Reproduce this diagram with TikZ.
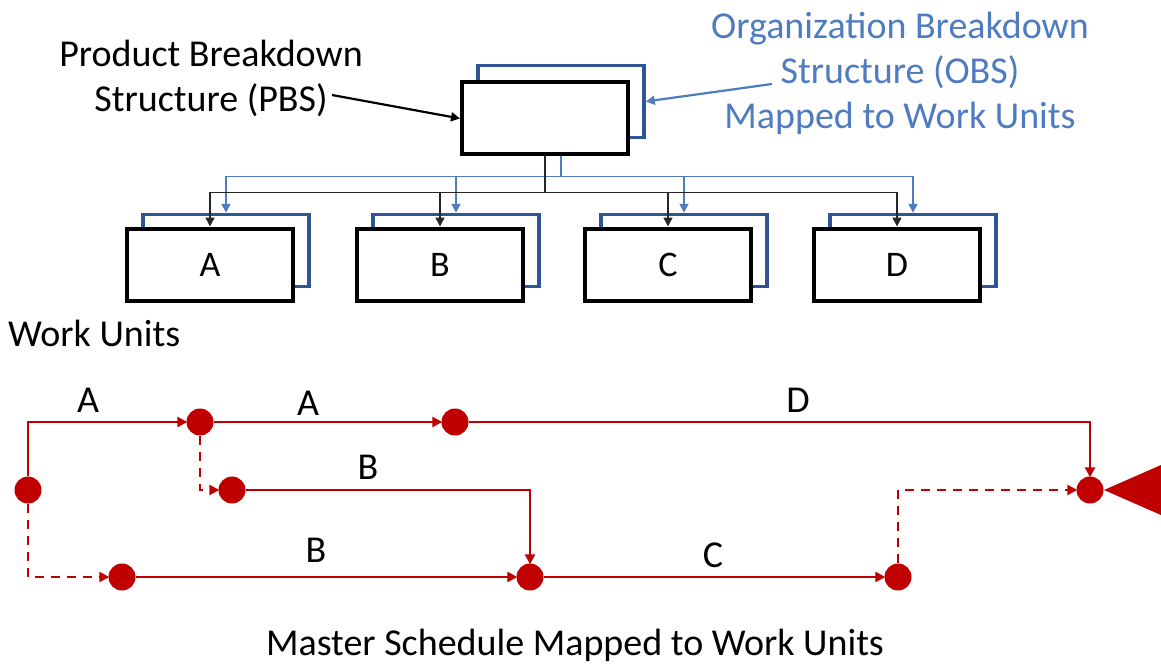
\documentclass[tikz,border=0pt]{standalone}
\usepackage{fontspec}
\setmainfont{Carlito}
\usetikzlibrary{arrows.meta}
\definecolor{obsblue}{HTML}{2F5597}
\definecolor{txtblue}{HTML}{4F7CC0}
\definecolor{schred}{HTML}{C00000}
\tikzset{
  bbox/.style={draw=black,line width=4pt,fill=white,minimum width=166pt,minimum height=72pt,inner sep=0pt,font=\fontsize{36}{42}\selectfont},
  obox/.style={draw=obsblue,line width=3.5pt,minimum width=166pt,minimum height=72pt,inner sep=0pt},
  blkline/.style={draw=black!85,line width=1.6pt},
  blueline/.style={draw=txtblue,line width=1.8pt},
  tip/.style={-{Triangle[length=9pt,width=9pt]}},
  evt/.style={circle,fill=schred,minimum size=27pt,inner sep=0pt},
  rl/.style={draw=schred,line width=2.4pt,-{Triangle[length=10pt,width=10pt]},shorten >=-1pt},
  rd/.style={rl,dash pattern=on 9pt off 7pt},
  lbl/.style={font=\fontsize{38}{45}\selectfont,inner sep=0pt},
}
\begin{document}
\begin{tikzpicture}[x=1pt,y=-1pt]
\useasboundingbox (0,0) rectangle (1161,664);
% top box
\node[obox] (PO) at (561,101.5) {};
\node[bbox] (P) at (545,117.5) {};
% child boxes
\foreach \n/\x in {A/210,B/440,C/668,D/897}{
  \node[obox] (\n O) at (\x+16,250.5) {};
  \node[bbox] (\n) at (\x,264.5) {\n};
}
% blue tree
\coordinate (bj) at ([xshift=16pt]P.south);
\coordinate (bjj) at ([yshift=-21pt]bj);
\draw[blueline] (bj) -- (bjj);
\foreach \n in {A,B,C,D}{ \draw[blueline,tip] (bjj) -| (\n O.north); }
% black tree
\coordinate (kj) at ([yshift=-37pt]P.south);
\draw[blkline] (P.south) -- (kj);
\foreach \n in {A,B,C,D}{ \draw[blkline,tip] (kj) -| (\n.north); }
% texts
\node[lbl,align=center] (pbs) at (211,78) {Product Breakdown\\Structure (PBS)};
\node[lbl,align=center,text=txtblue] (obs) at (900,73) {Organization Breakdown\\Structure (OBS)\\Mapped to Work Units};
\draw[line width=2.2pt,tip] (332,95) -- ([yshift=-1pt]P.west);
\draw[draw=txtblue,line width=2.2pt,tip] (772,84) -- (PO.east);
\node[lbl,anchor=west] (wu) at (8,333) {Work Units};
% schedule
\node[evt] (n0) at (28,490) {};
\node[evt] (n1) at (200,422) {};
\node[evt] (n2) at (455,422) {};
\node[evt] (n3) at (232,490) {};
\node[evt] (n4) at (122,577) {};
\node[evt] (n5) at (530,577) {};
\node[evt] (n6) at (898,577) {};
\node[evt] (n7) at (1090,490) {};
\fill[schred] (1104,490) -- (1161,465) -- (1161,515) -- cycle;
\draw[rl] (n0) |- (n1);
\draw[rl] (n1) -- (n2);
\draw[rl] (n2) -| (n7);
\draw[rd] (n1) |- (n3);
\draw[rl] (n3) -| (n5);
\draw[rd] (n0) |- (n4);
\draw[rl] (n4) -- (n5);
\draw[rl] (n5) -- (n6);
\draw[rd] (n6) |- (n7);
\node[lbl] (la1) at (88,400) {A};
\node[lbl] (la2) at (308,403) {A};
\node[lbl] (ld) at (798,400) {D};
\node[lbl] (lb1) at (368,467) {B};
\node[lbl] (lb2) at (316,550) {B};
\node[lbl] (lc) at (713,555) {C};
\node[lbl] (ms) at (575,645) {Master Schedule Mapped to Work Units};
\end{tikzpicture}
\end{document}
